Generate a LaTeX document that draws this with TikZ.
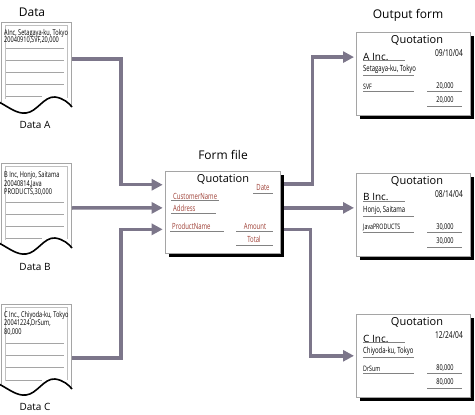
\documentclass[tikz,border=0pt]{standalone}
\usepackage{fontspec}
\setmainfont{Open Sans}
\newfontfamily\narrowfont[FakeStretch=0.7]{Open Sans}
\usepackage{xcolor}
\usetikzlibrary{calc,arrows.meta,positioning,shadows}
\definecolor{flowGray}{RGB}{124,118,138}
\definecolor{frameGray}{RGB}{165,165,165}
\definecolor{ruleGray}{RGB}{130,130,130}
\definecolor{fieldRed}{RGB}{158,62,52}

\tikzset{
  flow/.style={flowGray, line width=3.5pt, -{Triangle[length=11pt,width=11pt]}, shorten >=2pt},
  sheet/.style={draw=frameGray, line width=0.6pt, fill=white,
    drop shadow={shadow xshift=4pt, shadow yshift=-4pt, fill=black, opacity=1}},
  title/.style={font=\fontsize{12}{14}\selectfont, inner sep=0pt},
  label/.style={font=\fontsize{10}{12}\selectfont, inner sep=0pt},
  tiny/.style={font=\narrowfont\fontsize{8}{9}\selectfont, inner sep=0pt, anchor=west},
  field/.style={font=\narrowfont\fontsize{8.5}{9}\selectfont, text=fieldRed, inner sep=0pt},
  entry/.style={font=\narrowfont\fontsize{8.5}{9}\selectfont, inner sep=0pt},
  uline/.style={ruleGray, line width=0.6pt}
}

% data sheet with torn lower edge, origin at its top left corner
\newcommand{\datasheet}[2]{%
  \fill[white] (1,80) -- (1,0) -- (71,0) -- (71,84) -- cycle;
  \draw[frameGray, line width=0.6pt] (1,80) -- (1,0) -- (71,0) -- (71,84);
  \draw[frameGray!70, line width=0.5pt] (5,77) -- (5,3) -- (67,3) -- (67,76);
  \foreach \ry in {#1} \draw[frameGray, line width=0.6pt] (6,\ry) -- (64,\ry);
  \draw[frameGray, line width=0.6pt] (6,#2) -- (42,#2);
  \draw[black, line width=1.6pt] (-1,80) .. controls (10,86) and (17,92) .. (26,91)
    .. controls (37,90) and (44,74) .. (55,75) .. controls (63,76) and (69,81) .. (72,85);
}

% output quotation, origin at its top left corner
\newcommand{\quotesheet}[6]{%
  \node[sheet, anchor=north west, minimum width=114pt, minimum height=83pt] (out#1) at (0,0) {};
  \node[font=\fontsize{11}{13}\selectfont, inner sep=0pt] (q#1) at (61,8.5) {Quotation};
  \node[label, anchor=west] (co#1) at (7,24.5) {#2};
  \node[entry, font=\narrowfont\fontsize{9.5}{10}\selectfont, anchor=east] (dt#1) at (107,21.5) {#3};
  \node[entry, anchor=west] (ad#1) at (7,37.5) {#4};
  \node[entry, font=\narrowfont\fontsize{7.5}{8}\selectfont, anchor=west] (pr#1) at (7,54.5) {#5};
  \node[entry, font=\narrowfont\fontsize{8}{9}\selectfont] (am#1) at (89,54.5) {#6};
  \node[entry, font=\narrowfont\fontsize{8}{9}\selectfont] (tt#1) at (89,68.5) {#6};
  \draw[uline] (7,28.5) -- (49,28.5);
  \draw[uline] (7,43) -- (58,43);
  \draw[uline] (7,59) -- (58,59);
  \draw[uline] (71,59) -- (106,59);
  \draw[uline] (71,74) -- (106,74);
}

\begin{document}
\begin{tikzpicture}[x=1pt,y=-1pt]
\useasboundingbox (0,0) rectangle (475,415);

% input data
\node[title] (dataT) at (32,12) {Data};
\begin{scope}[shift={(0,22)}]
\datasheet{26,38,50,62}{74}
\node[tiny] (a1) at (4,11) {AInc, Setagaya-ku, Tokyo};
\node[tiny] (a2) at (4,18.5) {20040910,SVF,20,000};
\end{scope}
\node[label] (dataA) at (35,125) {Data A};

\begin{scope}[shift={(0,163)}]
\datasheet{39,51,63}{75}
\node[tiny] (b1) at (4,12.5) {B Inc, Honjo, Saitama};
\node[tiny] (b2) at (4,21) {20040814,Java};
\node[tiny] (b3) at (4,29.5) {PRODUCTS,30,000};
\end{scope}
\node[label] (dataB) at (35,267) {Data B};

\begin{scope}[shift={(0,304)}]
\datasheet{39,51,63}{76}
\node[tiny] (c1) at (4,11.5) {C Inc., Chiyoda-ku, Tokyo};
\node[tiny] (c2) at (4,19.5) {20041224,DrSum,};
\node[tiny] (c3) at (4,28.5) {80,000};
\end{scope}
\node[label] (dataC) at (35,407) {Data C};

% form file
\node[title] (formT) at (223,155) {Form file};
\node[sheet, minimum width=115pt, minimum height=82pt] (form) at (222.5,212) {};
\node[font=\fontsize{11}{13}\selectfont, inner sep=0pt] (formQ) at (223,179) {Quotation};
\node[field] (fDate) at (263,188) {Date};
\node[field, anchor=west] (fCust) at (173,196) {CustomerName};
\node[field, anchor=west] (fAddr) at (173,208.5) {Address};
\node[field, anchor=west] (fProd) at (172,226) {ProductName};
\node[field] (fAmt) at (255,226) {Amount};
\node[field] (fTot) at (254,239.5) {Total};
\draw[uline] (253,193) -- (273,193);
\draw[uline] (171,200.5) -- (219,200.5);
\draw[uline] (171,213.5) -- (216,213.5);
\draw[uline] (170,231) -- (224,231);
\draw[uline] (236,231) -- (273,231);
\draw[uline] (236,245) -- (273,245);

% output forms
\node[title] (outT) at (408,15) {Output form};
\begin{scope}[shift={(356,32)}]
\quotesheet{A}{A Inc.}{09/10/04}{Setagaya-ku, Tokyo}{SVF}{20,000}
\end{scope}
\begin{scope}[shift={(356,173)}]
\quotesheet{B}{B Inc.}{08/14/04}{Honjo, Saitama}{JavaPRODUCTS}{30,000}
\end{scope}
\begin{scope}[shift={(356,314)}]
\quotesheet{C}{C Inc.}{12/24/04}{Chiyoda-ku, Tokyo}{DrSum}{80,000}
\end{scope}

% connectors
\coordinate (dA) at (72,59);
\coordinate (dB) at (72,208);
\coordinate (dC) at (72,358);
\coordinate (fin1) at ($(form.north west)!0.17!(form.south west)$);
\coordinate (fin2) at ($(form.north west)!0.45!(form.south west)$);
\coordinate (fin3) at ($(form.north west)!0.71!(form.south west)$);
\coordinate (fo1) at ($(form.north east)!0.16!(form.south east)$);
\coordinate (fo2) at ($(form.north east)!0.45!(form.south east)$);
\coordinate (fo3) at ($(form.north east)!0.71!(form.south east)$);
\coordinate (inA) at ($(outA.north west)!0.3!(outA.south west)$);

\draw[flow] (dA) -- ++(49,0) |- (fin1);
\draw[flow] (dB) -- (fin2);
\draw[flow] (dC) -- ++(49,0) |- (fin3);
\draw[flow, shorten <=4pt] (fo1) -- ++(32,0) |- (inA);
\draw[flow, shorten <=4pt] (fo2) -- (outB.west |- fo2);
\draw[flow, shorten <=4pt] (fo3) -- ++(30,0) |- (outC.west);
\end{tikzpicture}
\end{document}
